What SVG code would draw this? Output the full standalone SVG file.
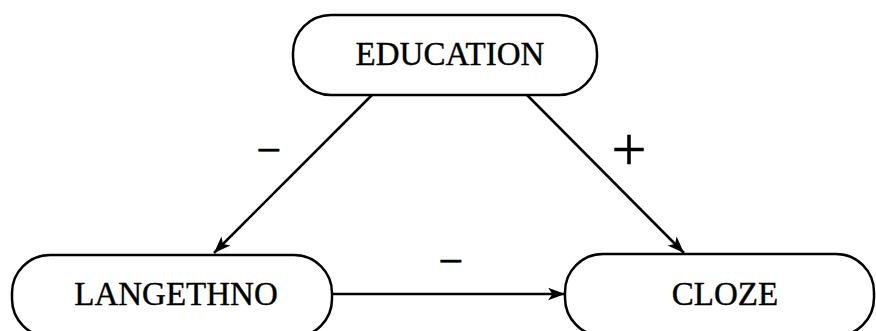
<svg xmlns="http://www.w3.org/2000/svg" width="876" height="331" viewBox="0 0 876 331">
<defs>
<style>
.box{fill:#fff;stroke:#000;stroke-width:2.5}
.lbl{font-family:"Liberation Serif","Times New Roman",serif;font-size:33px;fill:#000;stroke:#000;stroke-width:0.4;text-anchor:middle}
.sign{font-family:"Liberation Serif","Times New Roman",serif;fill:#000;stroke:#000;stroke-width:0.5;text-anchor:middle}
.edge{stroke:#000;stroke-width:2.5;fill:none;marker-end:url(#arr)}
</style>
<marker id="arr" markerUnits="userSpaceOnUse" markerWidth="20" markerHeight="20" viewBox="-17 -8 19 16" refX="0" refY="0" orient="auto">
<path d="M0,0 L-16,-6 L-12,0 L-16,6 Z" fill="#000"/>
</marker>
</defs>
<rect width="876" height="331" fill="#fff"/>
<g id="edges">
<line class="edge" x1="372" y1="95" x2="214" y2="253"/>
<line class="edge" x1="527" y1="95" x2="684" y2="253"/>
<line class="edge" x1="332" y1="294" x2="565" y2="294"/>
<text class="sign" x="269" y="165" font-size="44">−</text>
<text class="sign" x="629" y="170" font-size="62">+</text>
<text class="sign" x="451" y="276" font-size="44">−</text>
</g>
<g id="education">
<rect class="box" x="293" y="15" width="304" height="80" rx="38" ry="38"/>
<text class="lbl" x="450" y="65">EDUCATION</text>
</g>
<g id="langethno">
<rect class="box" x="12" y="255" width="320" height="82" rx="38" ry="38"/>
<text class="lbl" x="176" y="305">LANGETHNO</text>
</g>
<g id="cloze">
<rect class="box" x="565" y="254" width="309" height="82" rx="38" ry="38"/>
<text class="lbl" x="725" y="305">CLOZE</text>
</g>
</svg>
